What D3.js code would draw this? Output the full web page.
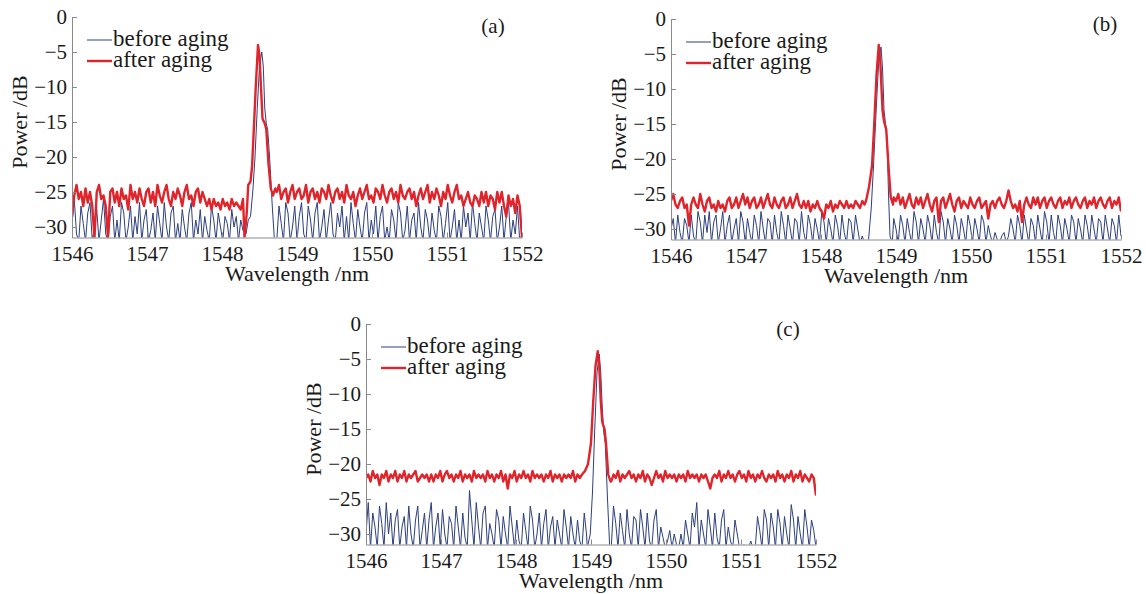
<!DOCTYPE html>
<html>
<meta charset="utf-8">
<title>Spectra before and after aging</title>
<style>
  body { margin: 0; background: #fff; }
</style>
<body>
<div id="chart"></div>
<script src="https://d3js.org/d3.v7.min.js"></script>
<script>
var xTicks = [1546, 1547, 1548, 1549, 1550, 1551, 1552];
var yTicks = [0, -5, -10, -15, -20, -25, -30];
var seriesNames = ["before aging", "after aging"];
var panelLabels = ["(a)", "(b)", "(c)"];

// noise floor, one sample every 0.03 nm from 1546 nm (null = under the laser line)
var wlStart = 1546, wlStep = 0.03;

var beforeA = [
  -29.5,-26,-31,-32,-27,-29.5,-32,-28,-26.5,-32,
  -30,-27.5,-32,-29,-26,-31,-32,-28.5,-27,-32,
  -29,-32,-26.5,-28,-32,-30,-27,-32,-28.5,-31,
  -26.5,-32,-29,-27.5,-32,-30.5,-28,-32,-27,-29.5,
  -32,-26.5,-30,-32,-28,-27,-32,-29.5,-32,-27.5,
  -30,-32,-28,-26.5,-32,-29,-31,-27.5,-32,-28.5,
  -30.5,-32,-27,-29,-32,-28,-30,-32,-28.5,-29.5,
  -32,-27.5,-30,-28.5,-32,-29,-30.5,null,null,null,
  null,null,null,null,null,null,null,null,null,null,
  null,null,-27,-29.5,-32,-26.5,-28,-32,-30,-27,
  -32,-28.5,-26.5,-31,-32,-27,-29,-32,-28,-26.5,
  -32,-30,-27.5,-32,-29,-26.5,-31,-32,-28,-30,
  -27,-32,-28.5,-32,-26.5,-29.5,-32,-27.5,-30,-32,
  -28,-26.5,-32,-29,-31,-27,-32,-28.5,-27,-32,
  -30,-32,-27.5,-29,-32,-26.5,-28,-32,-30.5,-27,
  -32,-29,-28,-32,-26.5,-30,-32,-27.5,-29,-32,
  -28,-30.5,-32,-27,-28.5,-32,-29.5,-26.5,-32,-30,
  -27.5,-32,-29,-32,-27,-30,-28,-32,-26.5,-29.5,
  -32,-28,-30,-32,-27,-29,-32,-28.5,-27.5,-32,
  -30,-27,-32,-28.5,-26.5,-32,-29,-31,-27,-32,
  -31];
var afterA = [
  -28.5,-25.5,-24,-26,-25,-27,-24.5,-26.5,-25,-27,
  -31.5,-25,-24,-26,-25.5,-27,-31.5,-25,-24.5,-26.5,
  -25,-27,-24.5,-26,-25.5,-27.5,-24,-26,-25,-26.5,
  -24.5,-26,-27,-25,-24.5,-26.5,-25,-27,-24,-25.5,
  -26.5,-25,-24,-26,-27,-25,-26,-24.5,-25.5,-27,
  -25,-24,-26,-25.5,-27,-25,-24.5,-26.5,-25,-26,
  -27,-26,-27.5,-26,-27,-26.5,-27.5,-26,-27,-26.5,
  -27.5,-26,-27,-26.5,-27,-27.5,-26,null,null,null,
  null,null,null,null,null,null,null,null,null,null,
  null,-25,-24,-26,-25,-24.5,-26.5,-25,-24,-26,
  -25,-24.5,-26,-25.5,-24,-26.5,-25,-24.5,-26,-25,
  -26.5,-24.5,-25,-26,-24,-25.5,-26.5,-25,-24.5,-26,
  -25,-26.5,-24,-25.5,-26,-25,-27,-25.5,-24.5,-26,
  -25,-24,-26,-25.5,-26.5,-24.5,-25,-26,-24,-25.5,
  -26.5,-25,-24.5,-26,-25,-26.5,-24,-25.5,-26,-25,
  -24.5,-26,-25,-27,-25.5,-24.5,-26,-25,-24,-26.5,
  -25,-26,-24.5,-25.5,-27,-25,-26,-24,-25.5,-26.5,
  -25,-24,-26,-25.5,-27,-26,-25,-26.5,-27,-25.5,
  -26,-27,-25,-26.5,-25,-27,-25.5,-26,-27.5,-25,
  -26.5,-25,-27,-28.5,-25.5,-27,-26,-28,-25.5,-27,
  -31.5];
var beforeB = [
  -30,-28.5,-32,-28,-30.5,-32,-28.5,-29.5,-32,-28,
  -31,-32,-27.5,-29,-32,-28,-30.5,-27.5,-32,-29,
  -28,-32,-30,-27.5,-32,-29.5,-28,-32,-30,-28.5,
  -32,-27.5,-29,-32,-28.5,-30.5,-32,-28,-29.5,-32,
  -27.5,-30,-32,-28.5,-29,-32,-28,-30.5,-32,-27.5,
  -29.5,-32,-28,-30,-32,-28.5,-29,-32,-27.5,-30.5,
  -32,-28,-29.5,-32,-28.5,-30,-32,-27.5,-29,-32,
  -28.5,-30,-32,-28,-29.5,-32,-28,-30.5,-32,-28.5,
  -29,-32,-28,-30,-32,-31,-32,-32,null,null,
  null,null,null,null,null,null,null,null,null,-28.5,
  -30,-32,-28,-29.5,-32,-28.5,-30.5,-32,-27.5,-29,
  -32,-28.5,-30,-32,-28,-29.5,-32,-28,-30.5,-32,
  -27.5,-29,-32,-28.5,-30,-32,-28,-29.5,-32,-28.5,
  -30,-32,-28,-29.5,-32,-28.5,-30,-32,-28,-29,
  -32,-29.5,-31,-32,-30.5,-31.5,-32,-31,-30.5,-32,
  -31,-28.5,-30,-32,-28,-29.5,-32,-28,-30,-32,
  -28.5,-29.5,-32,-28,-30,-32,-27.5,-29,-32,-28,
  -30.5,-32,-28,-29.5,-32,-28.5,-30,-32,-28,-29,
  -32,-28.5,-30,-32,-28,-29.5,-32,-28,-30,-32,
  -28.5,-29,-32,-28,-30,-32,-28.5,-29.5,-32,-28,
  -31];
var afterB = [
  -26,-25,-26.5,-27,-26,-25.5,-27,-26.5,-29.5,-26.5,
  -25.5,-26.5,-27,-25,-26.5,-27.5,-26,-25.5,-27,-26.5,
  -27.5,-26,-27,-26.5,-27.5,-26,-25.5,-27,-26.5,-25.5,
  -27,-26,-25,-26.5,-25.5,-27,-26,-25.5,-27,-26.5,
  -25.5,-27,-26,-25,-26.5,-27,-25.5,-26.5,-27,-26,
  -25.5,-27,-26.5,-25.5,-27,-26,-25,-26.5,-27,-26,
  -27,-26,-27.5,-26.5,-27,-26,-27,-27.5,-28.5,-26.5,
  -27,-26,-27.5,-26.5,-27,-26,-26.5,-27,-26,-27,
  -26.5,-27,-26,-26.5,-27,-26,-26.5,null,null,null,
  null,null,null,null,null,null,null,null,null,-25.5,
  -26,-25,-26.5,-25.5,-27,-26,-25,-26.5,-27,-25.5,
  -26.5,-25.5,-27,-26,-25,-26.5,-27.5,-26,-25.5,-29,
  -26,-25.5,-27,-26,-25,-26.5,-27.5,-26,-25.5,-27,
  -26,-26.5,-27,-25.5,-26.5,-27,-26,-25.5,-27,-26.5,
  -26,-28.5,-26.5,-26,-27,-26,-25.5,-26.5,-27,-26,
  -24.5,-26,-27,-26.5,-27.5,-26,-29,-26.5,-25.5,-26.5,
  -27,-25.5,-26.5,-25.5,-27,-26,-25.5,-27,-26,-25.5,
  -26.5,-27,-26,-25.5,-27,-26,-26.5,-25.5,-27,-26,
  -25.5,-26.5,-27,-26,-25.5,-27,-26,-26.5,-25.5,-27,
  -26,-25.5,-26.5,-27,-26,-25.5,-27,-26,-26.5,-25.5,
  -27.5];
var beforeC = [
  -30,-25.5,-32,-27,-29,-32,-26,-28.5,-32,-25.5,
  -30,-27,-32,-28,-26.5,-32,-29,-27.5,-32,-26,
  -30,-32,-28,-26,-32,-29.5,-27,-32,-28,-25.5,
  -32,-29,-27,-32,-26.5,-30,-32,-27.5,-28.5,-32,
  -26,-29,-32,-27,-30.5,-32,-23.8,-28,-32,-25.5,
  -29,-32,-27,-26,-32,-28.5,-30,-32,-26.5,-28,
  -32,-27.5,-30,-32,-26,-29,-32,-28,-31,-32,
  -27,-29.5,-32,-26,-28,-32,-30,-27,-32,-28.5,
  -26.5,-32,-29,-27.5,-32,-28,-30,-32,-26.5,-29,
  -32,-27.5,-30,-32,-28,-31,-32,-27,-30,null,
  null,null,null,null,null,null,null,null,null,-32,
  -26,-28.5,-32,-27,-29.5,-32,-26.5,-30,-32,-27.5,
  -28,-32,-26.5,-29,-32,-27,-31,-32,-28,-26.5,
  -32,-29,-30.5,-32,-31,-29.5,-32,-30,-31.5,-32,
  -30,-32,-28,-30,-32,-27,-29,-25.5,-32,-28,
  -30,-32,-26.5,-29,-32,-27,-30.5,-32,-28,-26.5,
  -32,-29,-31,-32,-28,-30,-32,-32,-31.5,-32,
  -32,-31,-32,-32,-27.5,-29.5,-32,-26.5,-28,-32,
  -27,-29,-32,-26.5,-28.5,-32,-27.5,-30,-32,-25.8,
  -28,-32,-27.5,-30,-32,-26.5,-29,-32,-28,-29.5,
  -32];
var afterC = [
  -22,-21.5,-22.5,-21,-22,-21.5,-23,-21.5,-22,-21,
  -22.5,-21.5,-22,-21,-22.5,-21.5,-22,-21,-22.5,-21.5,
  -22,-21.5,-21,-22.5,-22,-21.5,-22,-21.5,-22.5,-21.5,
  -22.5,-21.5,-22,-21,-22.5,-21.5,-21,-22,-21.5,-22.5,
  -21.5,-22,-21,-22.5,-21.5,-22,-21.5,-22.5,-21,-22,
  -21.5,-22,-21.5,-22.5,-21,-22,-21.5,-22.5,-21.5,-22,
  -21,-22.5,-21.5,-23.5,-21.5,-22,-21,-22.5,-21.5,-22,
  -21,-22,-21.5,-22.5,-21,-22,-21.5,-22,-21.5,-22.5,
  -21.5,-22,-21,-22.5,-21.5,-22,-21.5,-22.5,-21.5,-22,
  -21.5,-22,-21,-22.5,-21.5,-22,null,null,null,null,
  null,null,null,null,null,null,null,null,null,-22.5,
  -21.5,-22,-21,-22.5,-21.5,-22,-21.5,-21,-22,-21.5,
  -22.5,-21.5,-22,-21,-22.5,-21.5,-22,-23,-22,-21,
  -22,-21.5,-22.5,-21,-22,-21.5,-22,-21.5,-22.5,-21.5,
  -22,-21.5,-22.5,-21,-22,-21.5,-22,-21.5,-22.5,-21.5,
  -22,-21.5,-22.5,-23.5,-22,-21.5,-22,-21,-22.5,-21.5,
  -22,-21,-22,-21.5,-22.5,-21.5,-21,-22,-21.5,-22.5,
  -21,-22,-21.5,-22.5,-21.5,-22,-21,-22,-22.5,-21.5,
  -22,-21.5,-22.5,-21,-22,-21.5,-22.5,-21.5,-22,-21,
  -22.5,-21.5,-22,-21,-22.5,-21.5,-22,-22.5,-21.5,-22,
  -24.5];

// laser line, [wavelength nm, power dB]
var peakBeforeA = [[1548.32,-31],[1548.35,-29],[1548.38,-28.5],[1548.41,-25],[1548.44,-20],[1548.47,-13],[1548.50,-7],
  [1548.53,-5],[1548.55,-7],[1548.57,-13],[1548.59,-15.2],[1548.61,-16.2],[1548.64,-21],[1548.67,-27],[1548.70,-32],[1548.73,-32]];
var peakAfterA = [[1548.30,-31.5],[1548.33,-28],[1548.35,-24],[1548.38,-23.5],[1548.40,-21.5],[1548.42,-17],[1548.45,-10],
  [1548.48,-4],[1548.50,-5.5],[1548.52,-10],[1548.54,-14.5],[1548.57,-15.2],[1548.59,-16],[1548.62,-21],[1548.65,-24.5],
  [1548.68,-25.5],[1548.71,-24.5]];
var peakBeforeB = [[1548.63,-32],[1548.67,-27],[1548.70,-21],[1548.74,-12],[1548.77,-6],[1548.80,-4],[1548.82,-7],
  [1548.84,-13],[1548.86,-15],[1548.88,-17],[1548.90,-25],[1548.92,-31],[1548.95,-32]];
var peakAfterB = [[1548.60,-26],[1548.64,-24],[1548.68,-21],[1548.71,-15],[1548.74,-8],[1548.77,-3.7],[1548.79,-6],
  [1548.82,-13],[1548.84,-14.6],[1548.87,-15.8],[1548.90,-21],[1548.93,-25.5],[1548.96,-26.5]];
var peakBeforeC = [[1548.95,-32],[1548.99,-30],[1549.02,-24],[1549.05,-15],[1549.08,-7],[1549.11,-4.3],[1549.13,-7],
  [1549.15,-12],[1549.17,-15.5],[1549.19,-17],[1549.22,-25],[1549.25,-32]];
var peakAfterC = [[1548.88,-21.5],[1548.92,-21],[1548.96,-20],[1549.00,-17],[1549.03,-11],[1549.06,-6],[1549.09,-3.9],
  [1549.11,-6],[1549.13,-11],[1549.15,-14],[1549.18,-15],[1549.20,-17],[1549.23,-21.5],[1549.26,-22.5]];

var colors = ["#2c3f7e", "#e0242b"];
var FONT = '"Liberation Serif", "Times New Roman", serif';
var W = 450, H = 220.5;

var panels = [
  {left: 72,  top: 17,  lx: 493,  ly: 33,  before: [beforeA, peakBeforeA], after: [afterA, peakAfterA]},
  {left: 671, top: 19,  lx: 1105, ly: 31,  before: [beforeB, peakBeforeB], after: [afterB, peakAfterB]},
  {left: 366, top: 324, lx: 788,  ly: 336, before: [beforeC, peakBeforeC], after: [afterC, peakAfterC]}
];

function spectrum(base, peak) {
  var pts = base.map(function (v, i) { return [wlStart + i * wlStep, v]; })
    .filter(function (p) { return p[1] !== null; });
  return pts.concat(peak).sort(function (a, b) { return a[0] - b[0]; });
}

var svg = d3.select("#chart").append("svg")
  .attr("width", 1146).attr("height", 594);

var x = d3.scaleLinear().domain([1546, 1552]).range([0, W]);
var y = d3.scaleLinear().domain([-31.5, 0]).range([H, 0]);
var line = d3.line().x(function (d) { return x(d[0]); }).y(function (d) { return y(d[1]); });

panels.forEach(function (p, k) {
  var g = svg.append("g").attr("transform", "translate(" + p.left + "," + p.top + ")");

  g.append("clipPath").attr("id", "clip" + k)
    .append("rect").attr("x", 0).attr("y", -5).attr("width", W).attr("height", H + 5);

  var plot = g.append("g").attr("clip-path", "url(#clip" + k + ")");
  plot.append("path").datum(spectrum(p.before[0], p.before[1]))
    .attr("d", line).attr("fill", "none")
    .attr("stroke", colors[0]).attr("stroke-width", 1).attr("stroke-linejoin", "round");
  plot.append("path").datum(spectrum(p.after[0], p.after[1]))
    .attr("d", line).attr("fill", "none")
    .attr("stroke", colors[1]).attr("stroke-width", 2.4).attr("stroke-linejoin", "round");

  // axes, inward ticks like matlab
  var ya = g.append("g").call(d3.axisLeft(y).tickValues(yTicks).tickSize(-5).tickSizeOuter(0)
    .tickPadding(5).tickFormat(d3.format("d")));
  var xa = g.append("g").attr("transform", "translate(0," + H + ")")
    .call(d3.axisBottom(x).tickValues(xTicks).tickSize(-5).tickSizeOuter(0).tickFormat(d3.format("d")));
  xa.selectAll("text").attr("y", 23).attr("dy", 0);
  [ya, xa].forEach(function (a) {
    a.attr("font-family", FONT);
    a.select(".domain").attr("stroke", "#8a8a8a");
    a.selectAll(".tick line").attr("stroke", "#8a8a8a");
    a.selectAll("text").attr("font-size", 21).attr("fill", "#1a1a1a");
  });

  g.append("text").attr("x", W / 2).attr("y", H + 43)
    .attr("text-anchor", "middle").attr("font-family", FONT).attr("font-size", 22)
    .attr("fill", "#1a1a1a").text("Wavelength /nm");
  g.append("text").attr("transform", "translate(-45," + y(-15) + ") rotate(-90)")
    .attr("text-anchor", "middle").attr("font-family", FONT).attr("font-size", 22)
    .attr("fill", "#1a1a1a").text("Power /dB");

  // legend
  seriesNames.forEach(function (name, i) {
    var ly = 23 + i * 21;
    g.append("line").attr("x1", 15).attr("x2", 40).attr("y1", ly).attr("y2", ly)
      .attr("stroke", colors[i]).attr("stroke-width", i ? 2.4 : 1);
    g.append("text").attr("x", 41).attr("y", ly + 6).attr("font-family", FONT)
      .attr("font-size", 23).attr("fill", "#1a1a1a").text(name);
  });

  svg.append("text").attr("x", p.lx).attr("y", p.ly)
    .attr("text-anchor", "middle").attr("font-family", FONT).attr("font-size", 21)
    .attr("fill", "#1a1a1a").text(panelLabels[k]);
});
</script>
</body>
</html>
